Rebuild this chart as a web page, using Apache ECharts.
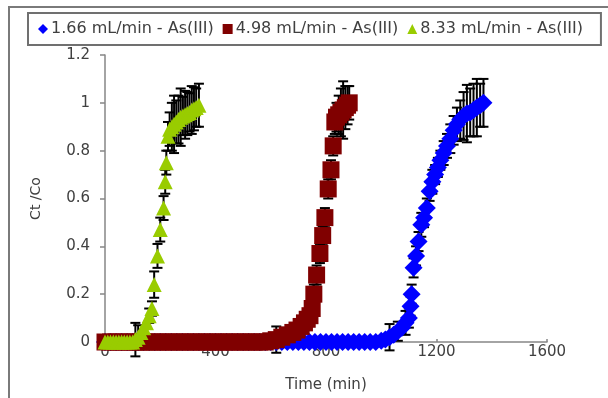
<!DOCTYPE html>
<html><head><meta charset="utf-8">
<script src="https://cdn.jsdelivr.net/npm/echarts@6/dist/echarts.min.js"></script>
<style>html,body{margin:0;padding:0;background:#fff;}#c{width:608px;height:398px;}</style>
</head><body><div id="c"></div>
<script>
const seriesNames = ['1.66 mL/min - As(III)', '4.98 mL/min - As(III)', '8.33 mL/min - As(III)'];
const xTicks = [0, 400, 800, 1200, 1600];
const yTicks = [0, 0.2, 0.4, 0.6, 0.8, 1, 1.2];

// 1.66 mL/min (blue diamonds)
const blueTime = [0,20,40,60,80,100,120,140,160,180,200,220,240,260,280,300,320,340,360,380,400,420,440,460,480,500,520,540,560,580,600,620,640,660,680,700,720,740,760,780,800,820,840,860,880,900,920,940,960,980,
  1000,1015,1030,1045,1060,1075,1088,1100,1106,1110,1117,1126,1135,1145,1155,1165,1175,1185,1195,1205,1214,1226,1238,1250,1262,1274,1286,1298,1310,1322,1334,1346,1358,1370];
const blueValue = [0,0,0,0,0,0,0,0,0,0,0,0,0,0,0,0,0,0,0,0,0,0,0,0,0,0,0,0,0,0,0,0,0,0,0,0,0,0,0,0,0,0,0,0,0,0,0,0,0,0,
  0.005,0.01,0.02,0.03,0.045,0.06,0.08,0.10,0.15,0.20,0.31,0.36,0.42,0.49,0.52,0.56,0.63,0.67,0.70,0.73,0.76,0.79,0.82,0.85,0.885,0.91,0.93,0.945,0.955,0.96,0.97,0.98,0.99,1.0];
const blueError = [0,0,0,0,0,0,0,0,0,0,0,0,0,0,0,0,0,0,0,0,0,0,0,0,0,0,0,0,0,0,0,0,0,0,0,0,0,0,0,0,0,0,0,0,0,0,0.02,0,0,0,
  0,0,0.055,0,0.04,0,0.05,0.04,0.04,0.04,0.04,0.04,0.04,0.05,0.04,0.04,0.04,0.05,0.04,0.04,0.04,0.05,0.05,0.06,0.06,0.07,0.08,0.10,0.12,0.10,0.11,0.12,0.09,0.1];

// 4.98 mL/min (dark red squares)
const redTime = [0,20,40,60,80,100,120,140,160,180,200,220,240,260,280,300,320,340,360,380,400,420,440,460,480,500,520,540,560,580,
  600,620,640,660,680,695,710,722,732,742,750,756,766,778,788,796,808,818,826,832,838,846,854,862,870,878,884];
const redValue = [0,0,0,0,0,0,0,0,0,0,0,0,0,0,0,0,0,0,0,0,0,0,0,0,0,0,0,0,0,0,
  0.005,0.01,0.02,0.03,0.04,0.05,0.065,0.08,0.095,0.11,0.14,0.20,0.28,0.37,0.445,0.52,0.64,0.72,0.82,0.92,0.94,0.95,0.96,0.97,0.98,0.99,1.0];
const redError = [0,0,0,0,0,0,0,0,0,0,0,0,0,0,0,0,0,0,0,0,0,0,0,0,0,0,0,0,0,0,
  0,0.055,0,0,0,0,0,0,0,0,0.03,0.04,0.04,0.04,0.04,0.04,0.04,0.04,0.04,0.05,0.06,0.08,0.10,0.12,0.09,0.08,0.07];

// 8.33 mL/min (green triangles)
const greenTime = [0,10,20,30,40,50,60,70,80,90,100,110,120,130,140,150,160,170,178,190,200,212,218,222,228,234,242,250,258,266,274,282,290,298,306,314,322,330,340];
const greenValue = [0,0,0,0,0,0,0,0,0,0,0,0.01,0.02,0.04,0.06,0.08,0.11,0.14,0.24,0.36,0.47,0.56,0.67,0.75,0.86,0.89,0.90,0.91,0.92,0.93,0.94,0.945,0.95,0.955,0.96,0.97,0.975,0.98,0.99];
const greenError = [0,0,0,0,0,0,0,0,0,0,0,0.07,0.05,0,0,0,0.03,0.03,0.055,0.05,0.05,0.05,0.05,0.05,0.06,0.07,0.10,0.12,0.09,0.10,0.12,0.08,0.10,0.09,0.08,0.10,0.09,0.08,0.09];

const FONT = 'DejaVu Sans';
const TXT = '#404040';

function pts(t, v) { return t.map((x, i) => [x, v[i]]); }
function errPts(t, v, e) { return t.map((x, i) => [x, v[i], e[i]]); }

function errRender(params, api) {
  const e = api.value(2);
  if (!e) return null;
  const x = api.value(0), y = api.value(1);
  const top = api.coord([x, y + e]);
  const bot = api.coord([x, y - e]);
  const hw = 5;
  const style = { stroke: '#000', lineWidth: 2 };
  return { type: 'group', children: [
    { type: 'line', shape: { x1: top[0], y1: top[1], x2: bot[0], y2: bot[1] }, style },
    { type: 'line', shape: { x1: top[0] - hw, y1: top[1], x2: top[0] + hw, y2: top[1] }, style },
    { type: 'line', shape: { x1: bot[0] - hw, y1: bot[1], x2: bot[0] + hw, y2: bot[1] }, style }
  ]};
}

const chart = echarts.init(document.getElementById('c'), null, { renderer: 'canvas' });
chart.setOption({
  animation: false,
  backgroundColor: '#fff',
  textStyle: { fontFamily: FONT },
  graphic: [{ type: 'rect', shape: { x: 9, y: 7, width: 620, height: 420 }, style: { fill: 'none', stroke: '#7a7a7a', lineWidth: 2 }, z: 100, silent: true }],
  legend: {
    left: 28, top: 13,
    padding: [8, 18, 8, 10],
    borderColor: '#707070', borderWidth: 2,
    itemWidth: 10, itemHeight: 10, itemGap: 9,
    textStyle: { fontFamily: FONT, fontSize: 16, color: TXT, padding: [0, 0, 0, -2] },
    data: [
      { name: seriesNames[0], icon: 'diamond' },
      { name: seriesNames[1], icon: 'rect' },
      { name: seriesNames[2], icon: 'triangle' }
    ]
  },
  grid: { left: 105, right: 61, top: 55, bottom: 56 },
  xAxis: {
    type: 'value', min: xTicks[0], max: xTicks[xTicks.length - 1], interval: 400,
    name: 'Time (min)', nameLocation: 'middle', nameGap: 36,
    nameTextStyle: { fontFamily: FONT, fontSize: 15, color: TXT },
    axisLine: { show: true, lineStyle: { color: '#868686', width: 1.5 } },
    axisTick: { show: true, inside: true, length: 3, lineStyle: { color: '#868686', width: 1.5 } },
    axisLabel: { fontFamily: FONT, fontSize: 15, color: TXT, margin: 3, formatter: v => String(v) },
    splitLine: { show: false }
  },
  yAxis: {
    type: 'value', min: yTicks[0], max: yTicks[yTicks.length - 1], interval: 0.2,
    name: 'Ct /Co', nameLocation: 'middle', nameGap: 62, nameRotate: 90,
    nameTextStyle: { fontFamily: FONT, fontSize: 14, color: TXT },
    axisLine: { show: true, lineStyle: { color: '#868686', width: 1.5 } },
    axisTick: { show: true, inside: false, length: 5, lineStyle: { color: '#868686', width: 1.5 } },
    axisLabel: { fontFamily: FONT, fontSize: 15, color: TXT, margin: 15 },
    splitLine: { show: false }
  },
  series: [
    { type: 'custom', name: 'blueErr', renderItem: errRender, data: errPts(blueTime, blueValue, blueError), clip: false, encode: { x: 0, y: 1 }, z: 2 },
    { type: 'scatter', name: seriesNames[0], symbol: 'diamond', symbolSize: 18, itemStyle: { color: '#0000FF', opacity: 1 }, data: pts(blueTime, blueValue), clip: false, z: 2 },
    { type: 'custom', name: 'redErr', renderItem: errRender, data: errPts(redTime, redValue, redError), clip: false, encode: { x: 0, y: 1 }, z: 2 },
    { type: 'scatter', name: seriesNames[1], symbol: 'rect', symbolSize: 17, itemStyle: { color: '#800000', opacity: 1 }, data: pts(redTime, redValue), clip: false, z: 2 },
    { type: 'custom', name: 'greenErr', renderItem: errRender, data: errPts(greenTime, greenValue, greenError), clip: false, encode: { x: 0, y: 1 }, z: 2 },
    { type: 'scatter', name: seriesNames[2], symbol: 'triangle', symbolSize: 15, itemStyle: { color: '#99CC00', opacity: 1 }, data: pts(greenTime, greenValue), clip: false, z: 2 }
  ]
});
</script></body></html>
